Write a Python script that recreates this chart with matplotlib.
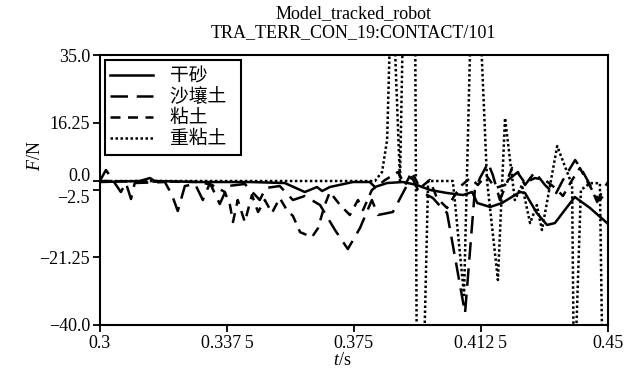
import matplotlib
matplotlib.use("Agg")
import matplotlib.pyplot as plt
import matplotlib.transforms as mtransforms

plt.rcParams['font.family'] = ['Liberation Serif', 'DejaVu Serif']
plt.rcParams['mathtext.fontset'] = 'custom'
plt.rcParams['mathtext.rm'] = 'Liberation Serif'
plt.rcParams['mathtext.it'] = 'Liberation Serif:italic'

# 干砂 (solid)
t_dry = [0.3, 0.3118, 0.3148, 0.3162, 0.3295, 0.3443, 0.3546, 0.3605, 0.3641, 0.3656,
         0.3679, 0.3747, 0.3797, 0.3812, 0.3848, 0.3895, 0.3936, 0.3975, 0.4025, 0.4072,
         0.4099, 0.4114, 0.4152, 0.4187, 0.4240, 0.4255, 0.4290, 0.4320, 0.4343, 0.4402,
         0.4447, 0.45]
f_dry = [-0.28, 0, 0.83, 0, -0.28, -0.28, -0.56, -3.06, -1.67, -2.78,
         -1.67, -0.28, -0.28, -1.67, -0.56, -0.28, -1.11, -2.5, -3.33, -3.89,
         -3.06, -6.11, -7.22, -6.11, -3.06, -3.33, -8.89, -12.2, -11.7, -4.44,
         -7.5, -11.9]

# 沙壤土 (long dash)
t_loam = [0.3, 0.3018, 0.3062, 0.3077, 0.3092, 0.3103, 0.3192, 0.3213, 0.3230, 0.3251,
          0.3281, 0.3304, 0.3325, 0.3354, 0.3378, 0.3428, 0.3472, 0.3490, 0.3531, 0.3570,
          0.3605, 0.3650, 0.3694, 0.3732, 0.3768, 0.3803, 0.3821, 0.3865, 0.3907, 0.3921,
          0.3939, 0.3983, 0.4007, 0.4025, 0.4078, 0.4107, 0.4122, 0.4146, 0.4160, 0.4181,
          0.4205, 0.4234, 0.4255, 0.4284, 0.4314, 0.4344, 0.4367, 0.4403, 0.4423, 0.4447,
          0.4468, 0.4485, 0.45]
f_loam = [0, 3.06, -3.06, -0.56, -5.0, -0.56, -0.28, -3.89, -8.33, -1.39,
          -0.83, -5.28, -0.56, -6.39, -1.39, -0.83, -5.28, -1.94, -1.39, -5.28,
          -4.17, -6.67, -13.6, -18.9, -13.05, -5.28, -9.44, -8.61, -1.11, 1.11,
          -2.5, -4.72, -7.22, -8.89, -36.7, -2.5, 0.83, 5.0, 1.67, -5.28,
          0.28, 2.5, -1.11, 2.5, -1.11, -3.89, 0.28, 5.83, 3.06, -1.11,
          -5.83, -2.5, -0.28]

# 粘土 (medium dash)
t_clay = [0.3, 0.3295, 0.3331, 0.3369, 0.3384, 0.3393, 0.3407, 0.3428, 0.3449, 0.3467,
          0.3487, 0.3508, 0.3531, 0.3552, 0.3570, 0.3591, 0.3626, 0.3644, 0.3664, 0.3679,
          0.3709, 0.3738, 0.3762, 0.3777, 0.3803, 0.3842, 0.3880, 0.3901, 0.3921, 0.3945,
          0.3974, 0.3995, 0.4025, 0.4048, 0.4069, 0.4093, 0.4116, 0.4140, 0.4167, 0.4196,
          0.4217, 0.4234, 0.4255, 0.4284, 0.4314, 0.4344, 0.4367, 0.4394, 0.4417, 0.4441,
          0.4462, 0.4476, 0.45]
f_clay = [0, -0.28, -1.11, -3.06, -6.67, -11.39, -5.28, -11.39, -3.89, -8.61,
          -5.28, -8.89, -4.72, -8.06, -9.72, -14.2, -15.6, -13.1, -6.67, -3.06,
          -6.67, -9.44, -5.28, -8.06, -2.5, 0.28, 2.5, -1.11, 2.5, -1.94,
          0.28, -4.72, -7.5, -3.89, -1.11, 0.83, -1.11, 1.67, -1.94, -1.11,
          3.61, 2.22, -0.56, 0.83, 0.28, -1.94, -4.17, 0.28, 3.61, -0.56,
          -3.89, -5.28, -2.5]

# 重粘土 (dotted), peaks run past the axis limits
t_heavy = [0.3, 0.3812, 0.3833, 0.3848, 0.3856, 0.3862, 0.3886, 0.3898, 0.3930, 0.3936,
           0.3954, 0.3969, 0.4042, 0.4075, 0.4099, 0.4116, 0.4143, 0.4175, 0.4196, 0.4225,
           0.4246, 0.4270, 0.4290, 0.4305, 0.4350, 0.4394, 0.4400, 0.4420, 0.4447, 0.4476,
           0.4485, 0.45]
f_heavy = [0, 0, 2.5, 11.4, 39, 60, 0, 60, 60, -60,
           -60, 0, 0, -31.7, 60, 60, 0, -27.5, 17.5, -5.3,
           -1.1, -11.7, -6.7, -13.6, 9.7, -1.1, -60, -2.5, -0.6, -0.6,
           -60, -60]

labels = ['干砂', '沙壤土', '粘土', '重粘土']
xticks = [0.3, 0.3375, 0.375, 0.4125, 0.45]
xticklabels = ['0.3', '0.337\u20095', '0.375', '0.412\u20095', '0.45']
yticks = [35.0, 16.25, 0.0, -2.5, -21.25, -40.0]
yticklabels = ['35.0', '16.25', '0.0', '\u22122.5', '\u221221.25', '\u221240.0']

fig = plt.figure(figsize=(6.4, 3.77), dpi=100)
ax = fig.add_axes([0.156, 0.138, 0.794, 0.716])

lw = 1.8
ax.plot(t_dry, f_dry, color='black', lw=lw, linestyle='-', label=labels[0])
ax.plot(t_loam, f_loam, color='black', lw=lw, linestyle=(0, (7, 3.5)), label=labels[1])
ax.plot(t_clay, f_clay, color='black', lw=lw, linestyle=(0, (4, 3)), label=labels[2])
ax.plot(t_heavy, f_heavy, color='black', lw=lw, linestyle=(0, (1, 1)), label=labels[3])

ax.set_xlim(0.3, 0.45)
ax.set_ylim(-40, 35)
ax.set_xticks(xticks)
ax.set_xticklabels(xticklabels)
ax.set_yticks(yticks)
ax.set_yticklabels(yticklabels)
ax.tick_params(direction='out', length=5, width=1.3, labelsize=13, pad=2,
               top=False, right=False)

# pull the crowded 0.0 / -2.5 labels apart like the original
ylabs = ax.get_yticklabels()
ylabs[2].set_transform(ylabs[2].get_transform() +
                       mtransforms.ScaledTranslation(0, 4.5 / 72, fig.dpi_scale_trans))
ylabs[3].set_transform(ylabs[3].get_transform() +
                       mtransforms.ScaledTranslation(0, -5 / 72, fig.dpi_scale_trans))

for s in ax.spines.values():
    s.set_linewidth(1.5)

ax.set_xlabel('$t$/s', fontsize=13)
ax.set_ylabel('$F$/N', fontsize=13)
ax.xaxis.set_label_coords(0.476, -0.1)
ax.yaxis.set_label_coords(-0.11, 0.626)

ax.set_title('Model_tracked_robot\nTRA_TERR_CON_19:CONTACT/101', fontsize=13,
             pad=13, linespacing=1.15)

leg = ax.legend(loc='upper left', prop={'family': ['Noto Sans CJK SC', 'DejaVu Sans'], 'size': 13.5},
                fancybox=False, edgecolor='black', framealpha=1, handlelength=2.3,
                handletextpad=0.9, labelspacing=0.0, borderpad=0.3, borderaxespad=0.25)
leg.get_frame().set_linewidth(1.5)
for txt in leg.get_texts():
    txt.set_text(txt.get_text() + '\u2002')

fig.savefig('out.png', dpi=100)
